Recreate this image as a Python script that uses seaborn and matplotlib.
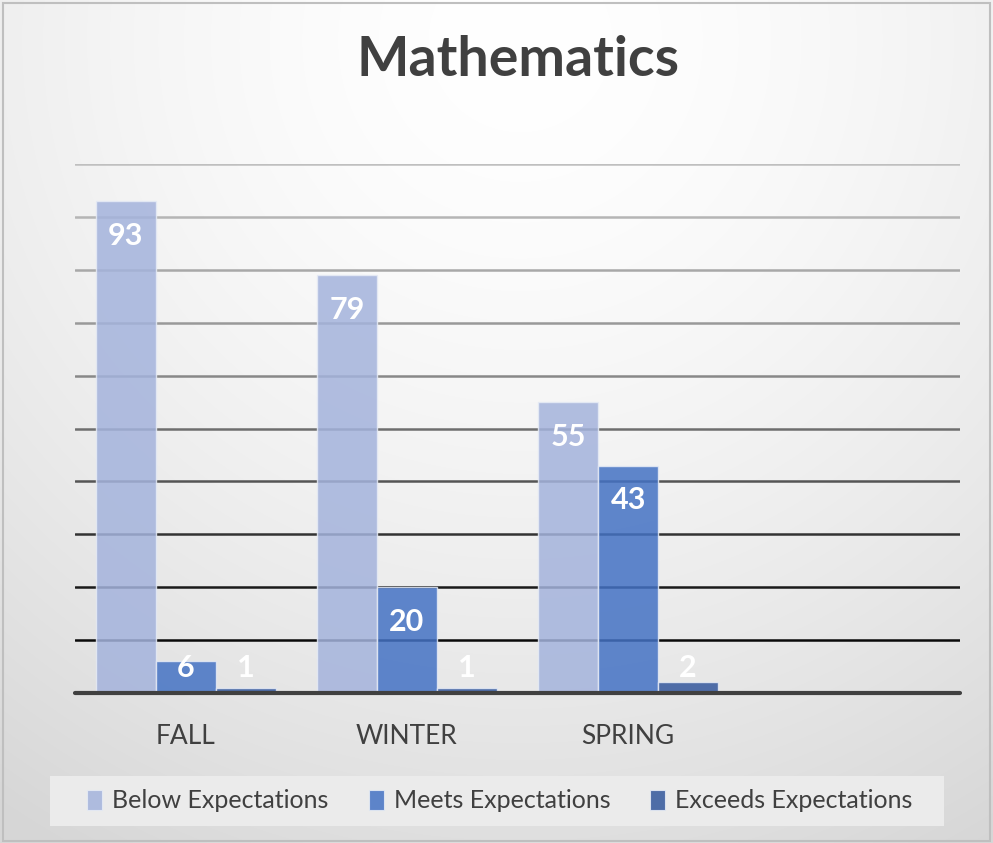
import numpy as np
import pandas as pd
import matplotlib
matplotlib.use("Agg")
import matplotlib.pyplot as plt
from matplotlib.patches import Patch, Rectangle
import seaborn as sns

# ---- data ----
terms = ["FALL", "WINTER", "SPRING"]
levels = ["Below Expectations", "Meets Expectations", "Exceeds Expectations"]
below = [93, 79, 55]
meets = [6, 20, 43]
exceeds = [1, 1, 2]
title = "Mathematics"

colors = ["#A4B3DC", "#4472C4", "#33579C"]

df = pd.DataFrame({
    "term": terms * 3,
    "level": [levels[0]] * 3 + [levels[1]] * 3 + [levels[2]] * 3,
    "count": below + meets + exceeds,
})

sns.set_theme(style="white")
plt.rcParams["font.family"] = ["Lato", "DejaVu Sans"]

W, H = 993, 843
fig = plt.figure(figsize=(W / 100, H / 100), dpi=100)

# background gradient
bg = fig.add_axes([0, 0, 1, 1], zorder=-10)
yy, xx = np.mgrid[0:H, 0:W]
d = np.sqrt((xx - 520) ** 2 + (yy - 40) ** 2)
val = 255 - 32 * (d / 800) ** 1.6
val = np.clip(val, 214, 255) / 255.0
img = np.dstack([val, val, val])
bg.imshow(img, aspect="auto", extent=[0, 1, 0, 1])
bg.set_xlim(0, 1); bg.set_ylim(0, 1)
bg.axis("off")
# border
bg.add_patch(Rectangle((0.003, 0.002), 0.994, 0.995, fill=False,
                       edgecolor="#BFBFBF", linewidth=1.5, transform=bg.transAxes))
# legend backing box
bg.add_patch(Rectangle((50 / W, 1 - 826 / H), (944 - 50) / W, 50 / H,
                       facecolor="#EBEBEB", edgecolor="none", transform=bg.transAxes))

ax = fig.add_axes([75 / W, 1 - 693 / H, (960 - 75) / W, (693 - 164) / H])
ax.set_facecolor("none")

sns.barplot(data=df, x="term", y="count", hue="level", order=terms,
            hue_order=levels, palette=colors, saturation=1, width=0.814, alpha=0.85,
            edgecolor="#E6EBF5", linewidth=1.0, ax=ax, legend=False, zorder=2)

ax.set_xlim(-0.5, 3.5)
ax.set_ylim(0, 100)

# gridlines, darkening downwards
grid_colors = ["#0A0A0A", "#1A1A1A", "#333333", "#555555", "#6E6E6E",
               "#888888", "#999999", "#A8A8A8", "#B5B5B5", "#BFBFBF"]
for i, gc in enumerate(grid_colors):
    ax.axhline((i + 1) * 10, color=gc, linewidth=1.8, zorder=0.5)
ax.axhline(0, color="#404040", linewidth=3.0, zorder=3, clip_on=False)

for s in ax.spines.values():
    s.set_visible(False)
ax.set_yticks([])
ax.set_xlabel("")
ax.set_ylabel("")
ax.tick_params(axis="x", length=0, pad=22, labelsize=19, labelcolor="#404040")

# data labels
for cont in ax.containers:
    for bar in cont:
        v = bar.get_height()
        xc = bar.get_x() + bar.get_width() / 2
        ypos = max(v - 6.6, 4.8)
        ax.text(xc, ypos, f"{v:.0f}", ha="center", va="center", color="white",
                fontsize=22, fontweight="bold", zorder=5)

fig.text(518 / W, 1 - 60 / H, title, ha="center", va="center",
         fontsize=40, fontweight="bold", color="#404040")

handles = [Patch(facecolor=c, alpha=0.85, edgecolor="#E6EBF5", linewidth=0.8) for c in colors]
fig.legend(handles, levels, loc="center", bbox_to_anchor=(500 / W, 1 - 801 / H),
           ncol=3, frameon=False, fontsize=18, labelcolor="#404040",
           handlelength=0.6, handleheight=0.9, handletextpad=0.4,
           columnspacing=1.6)

fig.savefig("out.png", dpi=100)
